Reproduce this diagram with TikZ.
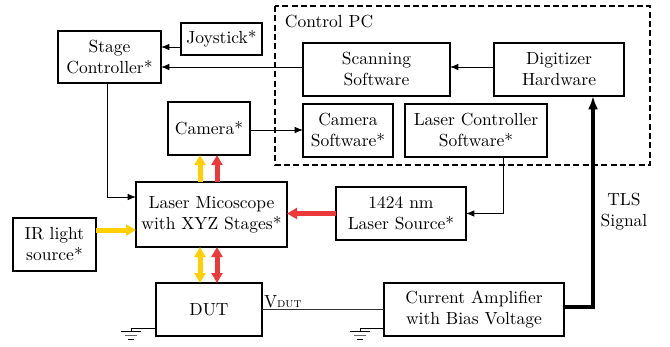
\documentclass[tikz,border=0pt]{standalone}
\usetikzlibrary{arrows.meta}
\definecolor{lyel}{RGB}{255,208,0}
\definecolor{lred}{RGB}{236,58,58}
\newcommand\bx[6]{\node[box, minimum width={(#4-#2)*0.6pt}, minimum height={(#5-#3)*0.6pt}] (#1) at ({(#2+#4)/2},{(#3+#5)/2}) {#6};}
\begin{document}
\begin{tikzpicture}[x=0.6pt,y=-0.6pt, font=\fontsize{10.5}{12.6}\selectfont,
  box/.style={draw, line width=0.8pt, align=center, inner sep=0pt, outer sep=0pt},
  arr/.style={line width=0.6pt, -{Latex[length=5pt,width=4pt]}},
  wire/.style={line width=0.6pt, black!80},
  yarr/.style={draw=lyel, fill=lyel, line width=3pt, -{Triangle[length=6pt,width=6.5pt]}},
  rarr/.style={draw=lred, fill=lred, line width=3pt, -{Triangle[length=6pt,width=6.5pt]}},
  yarr2/.style={draw=lyel, fill=lyel, line width=3pt, {Triangle[length=6pt,width=6.5pt]}-{Triangle[length=6pt,width=6.5pt]}},
  rarr2/.style={draw=lred, fill=lred, line width=3pt, {Triangle[length=6pt,width=6.5pt]}-{Triangle[length=6pt,width=6.5pt]}},
  gnd/.style={line width=0.6pt}]
\useasboundingbox (0,0) rectangle (670,346);
% Control PC frame
\draw[dash pattern=on 3.6pt off 2pt, line width=0.8pt] (275,6) rectangle (650,165);
\node[anchor=west] (pclabel) at (279,22) {Control PC};
% boxes
\bx{sc}{58}{31}{161}{83}{Stage\\Controller*}
\bx{joy}{181}{23}{262}{55}{Joystick*}
\bx{cam}{168}{102}{250}{155}{Camera*}
\bx{scan}{303}{43}{450}{96}{Scanning\\Software}
\bx{dig}{494}{43}{624}{96}{Digitizer\\Hardware}
\bx{camsw}{303}{104}{393}{157}{Camera\\Software*}
\bx{lcs}{405}{104}{547}{157}{Laser Controller\\Software*}
\bx{lm}{136}{182}{287}{247}{Laser Micoscope\\with XYZ Stages*}
\bx{ir}{13}{218}{96}{271}{IR light\\source*}
\bx{dut}{156}{283}{262}{336}{DUT}
\bx{ls}{336}{187}{466}{240}{1424 nm\\Laser Source*}
\bx{ca}{384}{283}{564}{336}{Current Amplifier\\with Bias Voltage}
% black connectors
\draw[arr] (joy.west |- 0,47) -- (sc.east |- 0,47);
\draw[arr] (scan.west |- 0,67) -- (sc.east |- 0,67);
\draw[arr] (dig.west |- 0,67) -- (scan.east |- 0,67);
\draw[arr] (cam.east |- 0,130) -- (camsw.west |- 0,130);
\draw[arr] (sc.south -| 107,0) |- (lm.west |- 0,197);
\draw[arr] (lcs.south -| 503,0) |- (ls.east);
% light paths
\draw[yarr] (ir.east |- 0,230) -- (lm.west |- 0,230);
\draw[rarr] (ls.west) -- (lm.east |- ls.west);
\draw[yarr] (lm.north -| 200,0) -- (cam.south -| 200,0);
\draw[rarr] (lm.north -| 217,0) -- (cam.south -| 217,0);
\draw[yarr2] (lm.south -| 200,0) -- (dut.north -| 200,0);
\draw[rarr2] (lm.south -| 217,0) -- (dut.north -| 217,0);
% DUT to amplifier
\draw[wire] (dut.east) -- (ca.west |- dut.east);
\node[anchor=south west, inner sep=1pt] (vdut) at (dut.east) {V\textsc{\footnotesize dut}};
% TLS signal
\draw[line width=2.4pt, -{Latex[length=8pt,width=6pt]}] (ca.east |- 0,307) -| (dig.south -| 593,0);
\node[align=center] (tls) at (624,212) {TLS\\Signal};
% grounds
\coordinate (g1) at (131,331);
\coordinate (g2) at (360,331);
\draw[gnd] (dut.west |- 0,328) -| (g1);
\draw[gnd] (ca.west |- 0,328) -| (g2);
\foreach \g in {g1,g2}{
  \draw[gnd] ([xshift=-10*0.6pt]\g) -- ([xshift=10*0.6pt]\g);
  \draw[gnd, black!60] ([xshift=-6*0.6pt, yshift=-4*0.6pt]\g) -- ([xshift=6*0.6pt, yshift=-4*0.6pt]\g);
  \draw[gnd] ([xshift=-3*0.6pt, yshift=-8*0.6pt]\g) -- ([xshift=3*0.6pt, yshift=-8*0.6pt]\g);
}
\end{tikzpicture}
\end{document}
